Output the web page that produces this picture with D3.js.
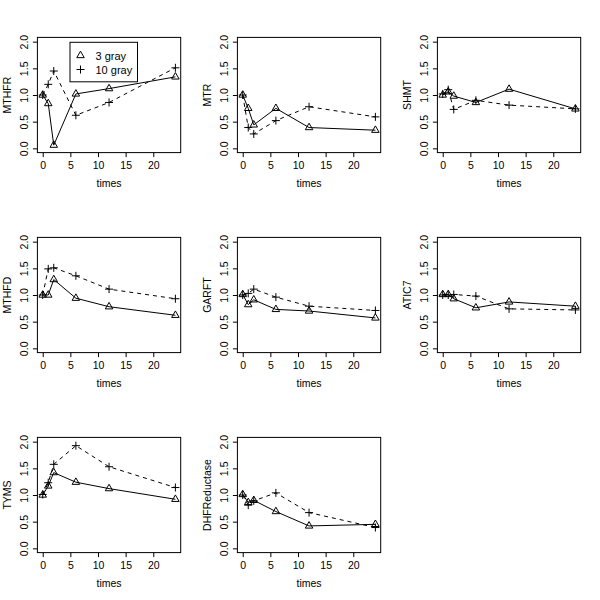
<!DOCTYPE html>
<html>
<head>
<meta charset="utf-8">
<script src="https://cdn.jsdelivr.net/npm/d3@7"></script>
<style>
  body { margin: 0; background: #fff; }
  text { font-family: "Liberation Sans", Arial, Helvetica, sans-serif; fill: #000; }
</style>
</head>
<body>
<svg id="chart" width="600" height="600"></svg>
<script>
// ---- data ----
const times = [0, 1, 2, 6, 12, 24];
const genes = ["MTHFR", "MTR", "SHMT", "MTHFD", "GARFT", "ATIC7", "TYMS", "DHFReductase"];
const gray3 = [
  [1.00, 0.84, 0.06, 1.02, 1.12, 1.34],
  [1.00, 0.75, 0.44, 0.75, 0.39, 0.34],
  [1.00, 1.06, 0.98, 0.86, 1.11, 0.74],
  [1.00, 1.00, 1.29, 0.94, 0.78, 0.62],
  [1.01, 0.82, 0.91, 0.73, 0.70, 0.57],
  [1.01, 1.01, 0.93, 0.76, 0.87, 0.79],
  [1.00, 1.17, 1.42, 1.24, 1.12, 0.92],
  [1.01, 0.86, 0.90, 0.69, 0.42, 0.45]
];
const gray10 = [
  [1.00, 1.20, 1.45, 0.62, 0.86, 1.51],
  [1.00, 0.39, 0.27, 0.52, 0.78, 0.59],
  [1.02, 1.10, 0.73, 0.90, 0.81, 0.74],
  [1.00, 1.49, 1.51, 1.36, 1.11, 0.93],
  [1.00, 1.03, 1.11, 0.96, 0.79, 0.71],
  [1.00, 1.00, 1.01, 0.98, 0.74, 0.72],
  [1.01, 1.23, 1.575, 1.925, 1.53, 1.14],
  [1.00, 0.81, 0.89, 1.04, 0.67, 0.39]
];
const xTicks = [0, 5, 10, 15, 20];
const yTicks = [0, 0.5, 1, 1.5, 2];
const legendLabels = ["3 gray", "10 gray"];

// ---- layout ----
const svg = d3.select("#chart");
const cell = 200;
const L = 37.4, R = 180.7, T = 37.4, B = 152.6;
const x = d3.scaleLinear().domain([-0.96, 24.96]).range([L, R]);
const y = d3.scaleLinear().domain([-0.08, 2.08]).range([B, T]);
const fs = 10.5;

function triPath(s) {
  const h = s * Math.sqrt(3) / 2;
  return `M0,${-h * 2 / 3}L${s / 2},${h / 3}L${-s / 2},${h / 3}Z`;
}
function plusPath(s) {
  const r = s / 2;
  return `M${-r},0H${r}M0,${-r}V${r}`;
}

genes.forEach((g, i) => {
  const col = i % 3, row = Math.floor(i / 3);
  const p = svg.append("g").attr("transform", `translate(${col * cell},${row * cell})`);

  // axes
  const xa = p.append("g").attr("transform", `translate(0,${B})`)
    .call(d3.axisBottom(x).tickValues(xTicks).tickSize(4.5).tickPadding(2).tickFormat(d3.format("d")));
  xa.select(".domain").remove();
  xa.selectAll("line").attr("stroke", "#000");
  xa.selectAll("text").attr("font-size", fs).attr("font-family", null).attr("dy", null)
    .attr("y", 16.5);

  const ya = p.append("g").attr("transform", `translate(${L},0)`)
    .call(d3.axisLeft(y).tickValues(yTicks).tickSize(4.5).tickFormat(d3.format(".1f")));
  ya.select(".domain").remove();
  ya.selectAll("line").attr("stroke", "#000");
  ya.selectAll("text").attr("font-size", fs).attr("font-family", null)
    .attr("x", null).attr("dy", null)
    .attr("text-anchor", "middle")
    .attr("transform", `translate(${23.5 - L},0) rotate(-90)`)
    .attr("dominant-baseline", "central");
  ya.attr("font-family", null);
  xa.attr("font-family", null);

  // box
  p.append("rect").attr("x", L).attr("y", T).attr("width", R - L).attr("height", B - T)
    .attr("fill", "none").attr("stroke", "#000").attr("stroke-width", 1);

  // axis titles
  p.append("text").attr("x", (L + R) / 2).attr("y", 187).attr("text-anchor", "middle")
    .attr("font-size", fs).text("times");
  p.append("text").attr("transform", `translate(10.5,${(T + B) / 2}) rotate(-90)`)
    .attr("text-anchor", "middle").attr("font-size", fs).text(g);

  const line = d3.line().x((d, k) => x(times[k])).y(d => y(d));

  // 3 gray: solid with triangles
  p.append("path").datum(gray3[i]).attr("d", line)
    .attr("fill", "none").attr("stroke", "#000").attr("stroke-width", 1);
  p.selectAll(".tri").data(gray3[i]).enter().append("path")
    .attr("transform", (d, k) => `translate(${x(times[k])},${y(d)})`)
    .attr("d", triPath(7.5)).attr("fill", "none").attr("stroke", "#000").attr("stroke-width", 1);

  // 10 gray: dashed with plus
  p.append("path").datum(gray10[i]).attr("d", line)
    .attr("fill", "none").attr("stroke", "#000").attr("stroke-width", 1)
    .attr("stroke-dasharray", "4,4");
  p.selectAll(".plus").data(gray10[i]).enter().append("path")
    .attr("transform", (d, k) => `translate(${x(times[k])},${y(d)})`)
    .attr("d", plusPath(8)).attr("fill", "none").attr("stroke", "#000").attr("stroke-width", 1);

  if (i === 0) {
    const lg = p.append("g");
    lg.append("rect").attr("x", 70).attr("y", 42.3).attr("width", 67.5).attr("height", 39.5)
      .attr("fill", "#fff").attr("stroke", "#000").attr("stroke-width", 1);
    const ly = [55.5, 69.5];
    lg.append("path").attr("transform", `translate(80.5,${ly[0]})`).attr("d", triPath(7.5))
      .attr("fill", "none").attr("stroke", "#000");
    lg.append("path").attr("transform", `translate(80.5,${ly[1]})`).attr("d", plusPath(8))
      .attr("fill", "none").attr("stroke", "#000");
    legendLabels.forEach((t, k) => {
      lg.append("text").attr("x", 95.5).attr("y", ly[k]).attr("dominant-baseline", "central")
        .attr("font-size", 11).text(t);
    });
  }
});
</script>
</body>
</html>
